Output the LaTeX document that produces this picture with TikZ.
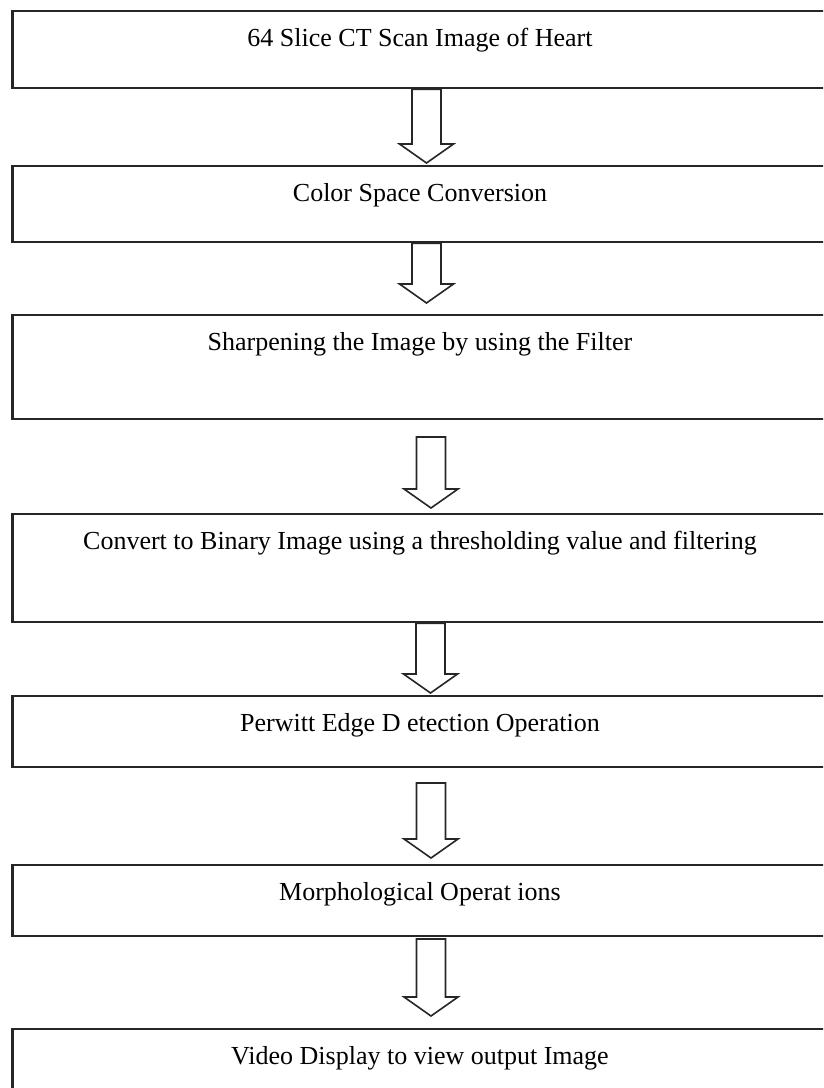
\documentclass[tikz,border=0pt]{standalone}
\usepackage{fontspec}
\setmainfont{Liberation Serif}
\usetikzlibrary{calc}

% hollow block arrow from a start point down to a tip
\newcommand{\flowarrow}[2]{%
  \draw[hollow] let \p1 = (#1), \p2 = (#2) in
    (\x1-14.5pt,\y1) -- (\x1-14.5pt,\y2+19pt) -- (\x1-27pt,\y2+19pt) -- (\x2,\y2)
    -- (\x1+27pt,\y2+19pt) -- (\x1+14.5pt,\y2+19pt) -- (\x1+14.5pt,\y1) -- cycle;}

\begin{document}
\begin{tikzpicture}[x=1pt, y=-1pt, stage/.style = {draw=black!85, line width=2.2pt, minimum width=815pt, inner sep=0pt, anchor=north, text height=35pt, font=\fontsize{26}{30}\selectfont}, hollow/.style = {draw=black!85, line width=1.6pt, fill=white, line join=miter}]

    \useasboundingbox (0,0) rectangle (823,1088);
    \clip (0,0) rectangle (823,1088);

    % stages
    \node[stage, text depth=42pt] (scan)    at (420,10)   {64 Slice CT Scan Image of Heart};
    \node[stage, text depth=41pt] (colour)  at (420,165)  {Color Space Conversion};
    \node[stage, text depth=69pt] (sharpen) at (420,314)  {Sharpening the Image by using the Filter};
    \node[stage, text depth=73pt] (binary)  at (420,513)  {Convert to Binary Image using a thresholding value and filtering};
    \node[stage, text depth=36pt] (edge)    at (420,695)  {Perwitt Edge D etection Operation};
    \node[stage, text depth=36pt] (morph)   at (420,864)  {Morphological Operat ions};
    \node[stage, text depth=37pt] (display) at (420,1028) {Video Display to view output Image};

    % arrow ends
    \coordinate (a1) at (scan.south -| 426.5,0);   \coordinate (t1) at (426.5,163);
    \coordinate (a2) at (colour.south -| 426.5,0); \coordinate (t2) at (426.5,303);
    \coordinate (a3) at (431,437);                 \coordinate (t3) at (431,508);
    \coordinate (a4) at (binary.south -| 430.5,0); \coordinate (t4) at (430.5,693);
    \coordinate (a5) at (431,783);                 \coordinate (t5) at (431,858);
    \coordinate (a6) at (431,939);                 \coordinate (t6) at (431,1016);

    % arrows
    \flowarrow{a1}{t1}
    \flowarrow{a2}{t2}
    \flowarrow{a3}{t3}
    \flowarrow{a4}{t4}
    \flowarrow{a5}{t5}
    \flowarrow{a6}{t6}

\end{tikzpicture}
\end{document}
